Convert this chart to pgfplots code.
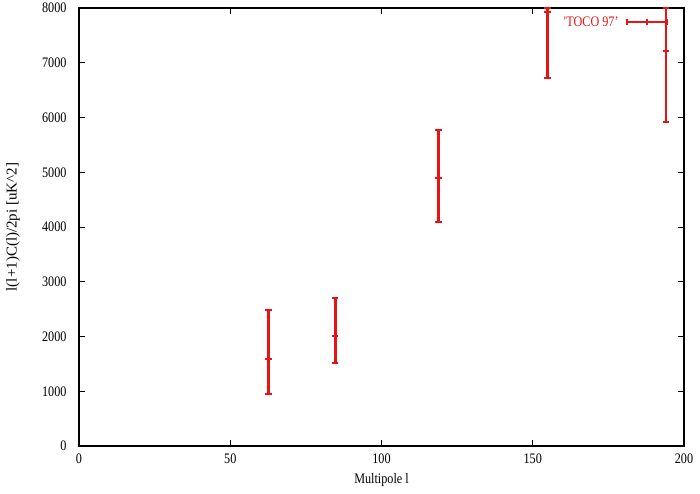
\documentclass[border=0pt]{standalone}
\usepackage{pgfplots}
\pgfplotsset{compat=1.18}
\usepackage{fontspec}
\setmainfont{Liberation Serif}[FakeStretch=0.84]
\newfontfamily\ylfont{Liberation Serif}
\definecolor{gpred}{RGB}{230,20,20}
\begin{document}
\begin{tikzpicture}
\begin{axis}[
  at={(0,0)}, anchor=south west,
  scale only axis, width=605pt, height=438pt,
  xmin=0, xmax=200, ymin=0, ymax=8000,
  xtick={0,50,...,200}, ytick={0,1000,...,8000},
  tick align=inside, major tick length=6pt,
  tick style={line width=0.9pt, black},
  axis line style={line width=1.3pt},
  font=\fontsize{14.5}{16}\selectfont,
  /pgf/number format/assume math mode=true,
  /pgf/number format/1000 sep={},
  yticklabel style={xshift=-9pt},
  xticklabel style={yshift=-4pt},
  xlabel={Multipole l},
  ylabel={\ylfont\fontsize{15}{17}\selectfont l(l+1)C(l)/2pi [uK\textasciicircum 2]},
  xlabel style={at={(axis description cs:0.5,-0.0776)}, anchor=center},
  ylabel style={at={(axis description cs:-0.109,0.5)}, anchor=center},
  clip=false,
  legend plot pos=right,
  legend style={draw=none, fill=none, inner sep=0pt, anchor=east,
    at={(axis description cs:0.9736,0.968)}, text=gpred,
    nodes={inner sep=0pt},
    /tikz/every odd column/.append style={column sep=7pt}},
  legend image code/.code={
    \draw[line width=2.2pt] (0pt,0pt) -- (40pt,0pt);
    \draw[line width=1.8pt] (0pt,-3pt) -- (0pt,3pt);
    \draw[line width=1.8pt] (20pt,-3pt) -- (20pt,3pt);
    \draw[line width=1.8pt] (40pt,-3pt) -- (40pt,3pt);
  },
]
\addplot[gpred, only marks, mark=-, mark size=3.2pt, mark options={line width=1.8pt},
  error bars/.cd, y dir=both, y explicit,
  error bar style={line width=2.6pt, gpred},
  error mark=|, error mark options={line width=1.8pt, mark size=3.2pt, gpred}]
coordinates {
  (62.7,1589) += (0,895) -= (0,639)
  (84.7,2015) += (0,682) -= (0,499)
  (118.9,4889) += (0,883) -= (0,804)
  (154.9,7921) += (0,79) -= (0,1206)
  (194.0,7215) += (0,785) -= (0,1292)
};
\addlegendentry{\textquotesingle TOCO 97'}
\end{axis}
\pgfresetboundingbox
\path (-79pt,-47pt) rectangle (621pt,446pt);
\end{tikzpicture}
\end{document}
